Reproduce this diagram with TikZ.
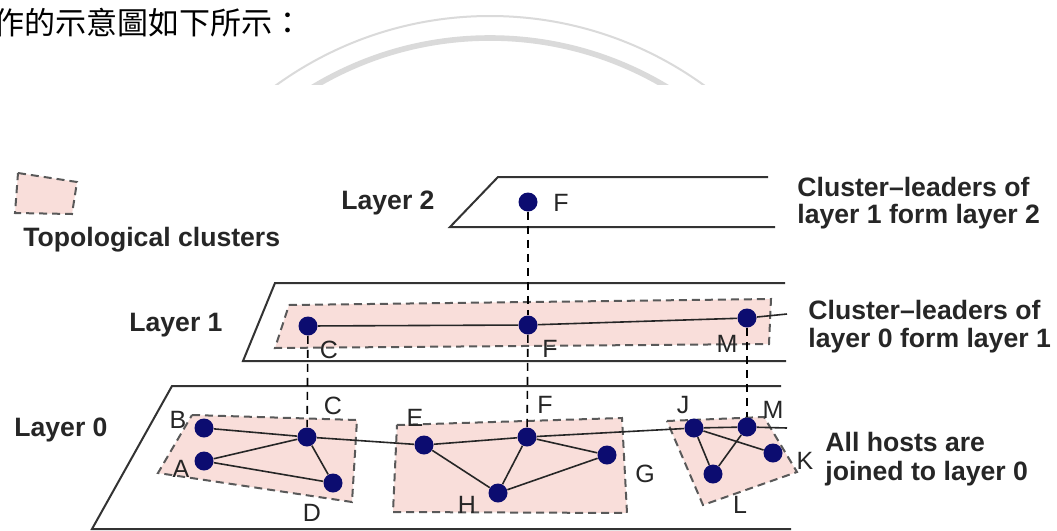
\documentclass[tikz,border=0pt]{standalone}
\usepackage{fontspec}
\setmainfont{Liberation Sans}
\newfontfamily\cjk{Noto Sans CJK TC}
\definecolor{pinkfill}{RGB}{249,222,218}
\definecolor{navy}{RGB}{12,12,112}
\definecolor{arcgray}{RGB}{218,218,218}
\begin{document}
\begin{tikzpicture}[x=0.5pt,y=-0.5pt,
  plane/.style={draw=black!80, line width=1pt},
  clusterbox/.style={draw=black!65, fill=pinkfill, dash pattern=on 4pt off 2.5pt, line width=1pt},
  host/.style={circle, fill=navy, inner sep=0pt, minimum size=9.5pt},
  link/.style={draw=black!85, line width=0.8pt},
  vdash/.style={draw=black, dash pattern=on 4pt off 3pt, line width=0.8pt},
  lbl/.style={font=\fontsize{12.5}{14}\selectfont, text=black!85, inner sep=0pt},
  big/.style={font=\bfseries\fontsize{13.3}{15.5}\selectfont, text=black!85, inner sep=0pt, anchor=west}]
\clip (0,0) rectangle (1057,531);
\fill[white] (0,0) rectangle (1057,531);
% header text
\node[anchor=west, inner sep=0pt, font=\cjk\fontsize{15.5}{18}\selectfont] (hdr) at (-7,23) {作的示意圖如下所示：};
% watermark arcs
\begin{scope}
\clip (0,0) rectangle (1057,84);
\draw[arcgray, line width=1pt] (490,381) circle[radius=182.5pt];
\draw[arcgray, line width=2.8pt] (490,381) circle[radius=171.5pt];
\end{scope}
% planes
\draw[plane] (768,177) -- (498,177) -- (450,227) -- (775,227);
\draw[plane] (785,283) -- (275,283) -- (243,361) -- (786,361);
\draw[plane] (781,386) -- (172,386) -- (92,529) -- (791,529);
% clusters
\draw[clusterbox] (18,173) -- (77,182) -- (72,214) -- (15,213) -- cycle;
\draw[clusterbox] (289,305) -- (771,299) -- (769,344) -- (275,348) -- cycle;
\draw[clusterbox] (192,415) -- (357,420) -- (352,502) -- (158,473) -- cycle;
\draw[clusterbox] (397,425) -- (622,418) -- (627,513) -- (393,512) -- cycle;
\draw[clusterbox] (667,421) -- (764,417) -- (797,472) -- (703,505) -- cycle;
% hosts
\node[host] (F2) at (528,202) {};
\node[host] (C1) at (308,326) {};
\node[host] (F1) at (528,325) {};
\node[host] (M1) at (747,318) {};
\coordinate (e1) at (787,314);
\node[host] (B) at (204,428) {};
\node[host] (A) at (204,461) {};
\node[host] (C0) at (307,437) {};
\node[host] (D) at (333,483) {};
\node[host] (E) at (424,445) {};
\node[host] (F0) at (527,437) {};
\node[host] (G) at (607,455) {};
\node[host] (H) at (498,493) {};
\node[host] (J) at (694,428) {};
\node[host] (M0) at (747,427) {};
\node[host] (L) at (713,474) {};
\node[host] (K) at (773,453) {};
\coordinate (e0) at (787,428);
% links
\draw[link] (C1) -- (F1) -- (M1) -- (e1);
\draw[link] (B) -- (C0);
\draw[link] (A) -- (C0);
\draw[link] (A) -- (D);
\draw[link] (C0) -- (D);
\draw[link] (C0) -- (E);
\draw[link] (E) -- (F0);
\draw[link] (E) -- (H);
\draw[link] (H) -- (F0);
\draw[link] (H) -- (G);
\draw[link] (F0) -- (G);
\draw[link] (F0) -- (J);
\draw[link] (J) -- (M0) -- (e0);
\draw[link] (J) -- (L);
\draw[link] (L) -- (M0);
\draw[link] (J) -- (K);
% vertical dashed
\draw[vdash] (F2) -- (F1);
\draw[vdash] (F1) -- (F0);
\draw[vdash] (C1) -- (C0);
\draw[vdash] (M1) -- (M0);
% host labels
\node[lbl] (lF2) at (561,203) {F};
\node[lbl] (lC1) at (329,350) {C};
\node[lbl] (lF1) at (550,349) {F};
\node[lbl] (lM1) at (727,344) {M};
\node[lbl] (lB) at (178,420) {B};
\node[lbl] (lA) at (181,469) {A};
\node[lbl] (lC0) at (333,406) {C};
\node[lbl] (lD) at (312,513) {D};
\node[lbl] (lE) at (415,418) {E};
\node[lbl] (lF0) at (545,405) {F};
\node[lbl] (lG) at (645,474) {G};
\node[lbl] (lH) at (467,505) {H};
\node[lbl] (lJ) at (683,405) {J};
\node[lbl] (lM0) at (773,410) {M};
\node[lbl] (lL) at (740,505) {L};
\node[lbl] (lK) at (805,461) {K};
% texts
\node[big] (t2) at (341,203) {Layer 2};
\node[big] (t1) at (129,325) {Layer 1};
\node[big] (t0) at (14,430) {Layer 0};
\node[big] (tc) at (23,240) {Topological clusters};
\node[big] (r2a) at (797,187) {Cluster–leaders of};
\node[big] (r2b) at (797,217) {layer 1 form layer 2};
\node[big] (r1a) at (808,310) {Cluster–leaders of};
\node[big] (r1b) at (808,341) {layer 0 form layer 1};
\node[big] (r0a) at (825,442) {All hosts are};
\node[big] (r0b) at (825,474) {joined to layer 0};
\end{tikzpicture}
\end{document}
